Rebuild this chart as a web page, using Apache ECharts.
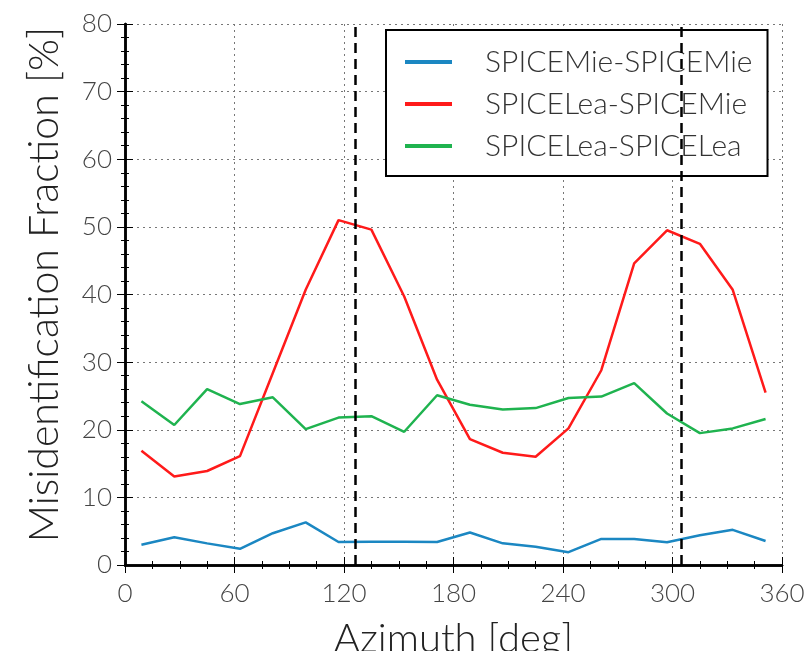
<!DOCTYPE html>
<html><head><meta charset="utf-8">
<script src="https://cdn.jsdelivr.net/npm/echarts@6/dist/echarts.min.js"></script>
<style>html,body{margin:0;padding:0;background:#fff}#c{width:808px;height:651px}</style>
</head><body><div id="c"></div>
<script>
const azimuth = [9,27,45,63,81,99,117,135,153,171,189,207,225,243,261,279,297,315,333,351];
const mieMie = [3.0,4.1,3.2,2.4,4.7,6.3,3.4,3.45,3.45,3.4,4.8,3.2,2.7,1.9,3.85,3.85,3.35,4.4,5.2,3.55];
const leaMie = [16.9,13.1,13.9,16.1,28.4,40.7,51.0,49.6,39.7,27.4,18.6,16.6,16.0,20.2,28.8,44.6,49.5,47.5,40.7,25.5];
const leaLea = [24.2,20.7,26.0,23.8,24.8,20.1,21.8,22.0,19.7,25.1,23.7,23.0,23.2,24.7,24.9,26.9,22.4,19.5,20.2,21.6];
const seriesNames = ['SPICEMie-SPICEMie','SPICELea-SPICEMie','SPICELea-SPICELea'];
const vLines = [126, 305];

const FONT = 'Lato';
const colors = ['#1b87c2','#ff1a1a','#1fb34f'];
function pairs(v){ return azimuth.map((a,i)=>[a,v[i]]); }
const gridLine = {show:true, lineStyle:{color:'#777', type:[2,4], width:1}};
const boxLine = {show:true, lineStyle:{color:'#000', width:2.5}};
const tick = {show:true, inside:true, length:8, lineStyle:{color:'#000'}};
const chart = echarts.init(document.getElementById('c'));
chart.setOption({
  animation:false,
  backgroundColor:'#fff',
  grid:{left:125, right:26, top:24, bottom:86, outerBoundsMode:'none', containLabel:false},
  legend:{
    orient:'vertical', left:386, top:30,
    data: seriesNames,
    icon:'rect', itemWidth:47, itemHeight:4, itemGap:12,
    backgroundColor:'#fff', borderColor:'#000', borderWidth:2, borderRadius:0,
    padding:[17,15,15,19],
    textStyle:{fontFamily:FONT, fontSize:30, fontWeight:300, color:'#333', padding:[0,0,0,28]}
  },
  xAxis:[{
    type:'value', min:0, max:360, interval:60,
    name:'Azimuth [deg]', nameLocation:'middle', nameGap:54,
    nameTextStyle:{fontFamily:FONT, fontSize:40, fontWeight:300, color:'#222'},
    axisLine:boxLine, axisTick:tick,
    minorTick:{show:true, splitNumber:4, length:4, lineStyle:{color:'#000'}},
    axisLabel:{fontFamily:FONT, fontSize:26, fontWeight:300, color:'#444', margin:16},
    splitLine:gridLine
  },{
    type:'value', min:0, max:360, interval:60, position:'top',
    axisLine:boxLine, axisTick:tick,
    minorTick:{show:true, splitNumber:4, length:4, lineStyle:{color:'#000'}},
    axisLabel:{show:false}, splitLine:{show:false}
  }],
  yAxis:[{
    type:'value', min:0, max:80, interval:10,
    name:'Misidentification Fraction [%]', nameLocation:'middle', nameGap:60,
    nameTextStyle:{fontFamily:FONT, fontSize:41, fontWeight:300, color:'#222', padding:[0,0,0,20]},
    axisLine:boxLine, axisTick:tick,
    minorTick:{show:true, splitNumber:5, length:4, lineStyle:{color:'#000'}},
    axisLabel:{fontFamily:FONT, fontSize:26, fontWeight:300, color:'#444', margin:13},
    splitLine:gridLine
  },{
    type:'value', min:0, max:80, interval:10, position:'right',
    axisLine:boxLine, axisTick:tick,
    minorTick:{show:true, splitNumber:5, length:4, lineStyle:{color:'#000'}},
    axisLabel:{show:false}, splitLine:{show:false}
  }],
  series:[
    {name:seriesNames[0], type:'line', data:pairs(mieMie), symbol:'none', color:colors[0], lineStyle:{width:2.5}, z:3,
     markLine:{silent:true, symbol:'none', label:{show:false},
       lineStyle:{color:'#000', type:[10,6], width:2.5},
       data: vLines.map(v=>({xAxis:v}))}},
    {name:seriesNames[1], type:'line', data:pairs(leaMie), symbol:'none', color:colors[1], lineStyle:{width:2.5}, z:3},
    {name:seriesNames[2], type:'line', data:pairs(leaLea), symbol:'none', color:colors[2], lineStyle:{width:2.5}, z:3}
  ]
});
</script></body></html>
